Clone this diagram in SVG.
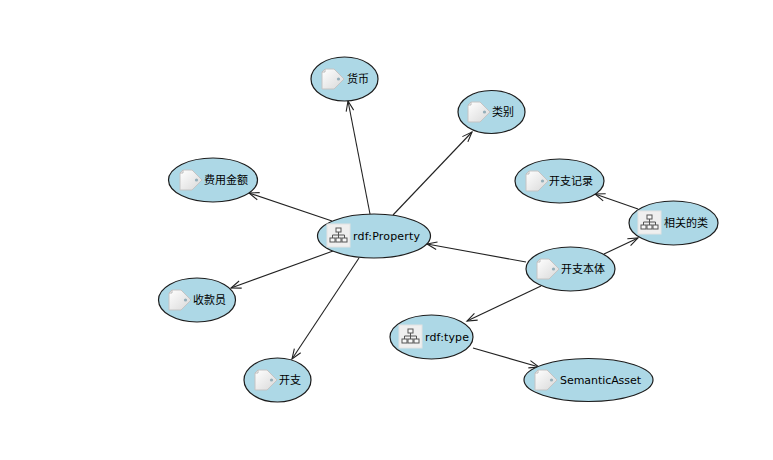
<svg xmlns="http://www.w3.org/2000/svg" width="773" height="460" viewBox="0 0 773 460">
<style>
text{font-family:"DejaVu Sans","Noto Sans CJK SC",sans-serif;font-size:11px;fill:#000}
.n{fill:#add8e6;stroke:#1c1c1c;stroke-width:1.2}
.c line{stroke:#222;stroke-width:1.1;marker-end:url(#a)}
</style>
<defs>
<marker id="a" markerUnits="userSpaceOnUse" markerWidth="14" markerHeight="12" refX="12" refY="6" orient="auto"><path d="M2 2.200 12 6 2 9.800" fill="none" stroke="#222" stroke-width="1.100"/></marker>
<linearGradient id="g" x1="0" y1="0" x2="1" y2="1"><stop offset="0" stop-color="#fff"/><stop offset="1" stop-color="#d8d8d8"/></linearGradient>
<g id="tag"><path d="M4 1H13L23 11 13 21H1V4Z" fill="url(#g)" stroke="#c4c4c4"/><path d="M4 1V4H1" fill="none" stroke="#bbb"/><circle cx="17.500" cy="11" r="1.600" fill="#93aeb9"/></g>
<g id="cls"><rect width="23" height="23" fill="#efefef" stroke="#e2e2e2"/><g fill="#f8f8f8" stroke="#555"><rect x="9" y="4" width="5" height="4"/><rect x="3" y="14" width="5" height="4"/><rect x="9" y="14" width="5" height="4"/><rect x="15" y="14" width="5" height="4"/></g><path d="M11.500 8V14M5.500 14V11H17.500V14" fill="none" stroke="#555"/></g>
</defs>
<g class="c" id="connectors">
<line x1="370" y1="214" x2="348" y2="101"/>
<line x1="393" y1="215" x2="472" y2="132"/>
<line x1="332" y1="221" x2="249" y2="193"/>
<line x1="333" y1="251" x2="231" y2="288"/>
<line x1="359" y1="258" x2="292" y2="359"/>
<line x1="526" y1="262" x2="427" y2="244"/>
<line x1="604" y1="254" x2="638" y2="238"/>
<line x1="638" y1="209" x2="595" y2="194"/>
<line x1="541" y1="286" x2="467" y2="321"/>
<line x1="473" y1="348" x2="539" y2="367"/>
</g>
<g id="n-huobi"><ellipse class="n" cx="344.500" cy="79" rx="33.500" ry="22"/><use href="#tag" x="321" y="68"/><text x="347" y="83">货币</text></g>
<g id="n-leibie"><ellipse class="n" cx="491.500" cy="112" rx="33.500" ry="21.500"/><use href="#tag" x="467" y="101"/><text x="492" y="116">类别</text></g>
<g id="n-feiyong"><ellipse class="n" cx="213" cy="180" rx="44.500" ry="22"/><use href="#tag" x="179" y="169"/><text x="204" y="184">费用金额</text></g>
<g id="n-property"><ellipse class="n" cx="374" cy="236" rx="56.500" ry="22"/><use href="#cls" x="327" y="224"/><text x="353" y="240" textLength="67">rdf:Property</text></g>
<g id="n-jilu"><ellipse class="n" cx="559.500" cy="181" rx="44.500" ry="22"/><use href="#tag" x="525" y="170"/><text x="549" y="185">开支记录</text></g>
<g id="n-xiangguan"><ellipse class="n" cx="673.500" cy="223" rx="44.500" ry="22"/><use href="#cls" x="638" y="211"/><text x="664" y="227">相关的类</text></g>
<g id="n-benti"><ellipse class="n" cx="570.500" cy="269" rx="44.500" ry="22"/><use href="#tag" x="536" y="258"/><text x="561" y="273">开支本体</text></g>
<g id="n-shoukuan"><ellipse class="n" cx="197" cy="300" rx="38.500" ry="22"/><use href="#tag" x="168" y="289"/><text x="193" y="304">收款员</text></g>
<g id="n-type"><ellipse class="n" cx="431.500" cy="337" rx="41.500" ry="22"/><use href="#cls" x="399" y="325"/><text x="425" y="341" textLength="44">rdf:type</text></g>
<g id="n-kaizhi"><ellipse class="n" cx="277.500" cy="380" rx="33.500" ry="22"/><use href="#tag" x="254" y="369"/><text x="279" y="384">开支</text></g>
<g id="n-asset"><ellipse class="n" cx="588.500" cy="380" rx="64.500" ry="21.500"/><use href="#tag" x="534" y="369"/><text x="560" y="384" textLength="81">SemanticAsset</text></g>
</svg>
